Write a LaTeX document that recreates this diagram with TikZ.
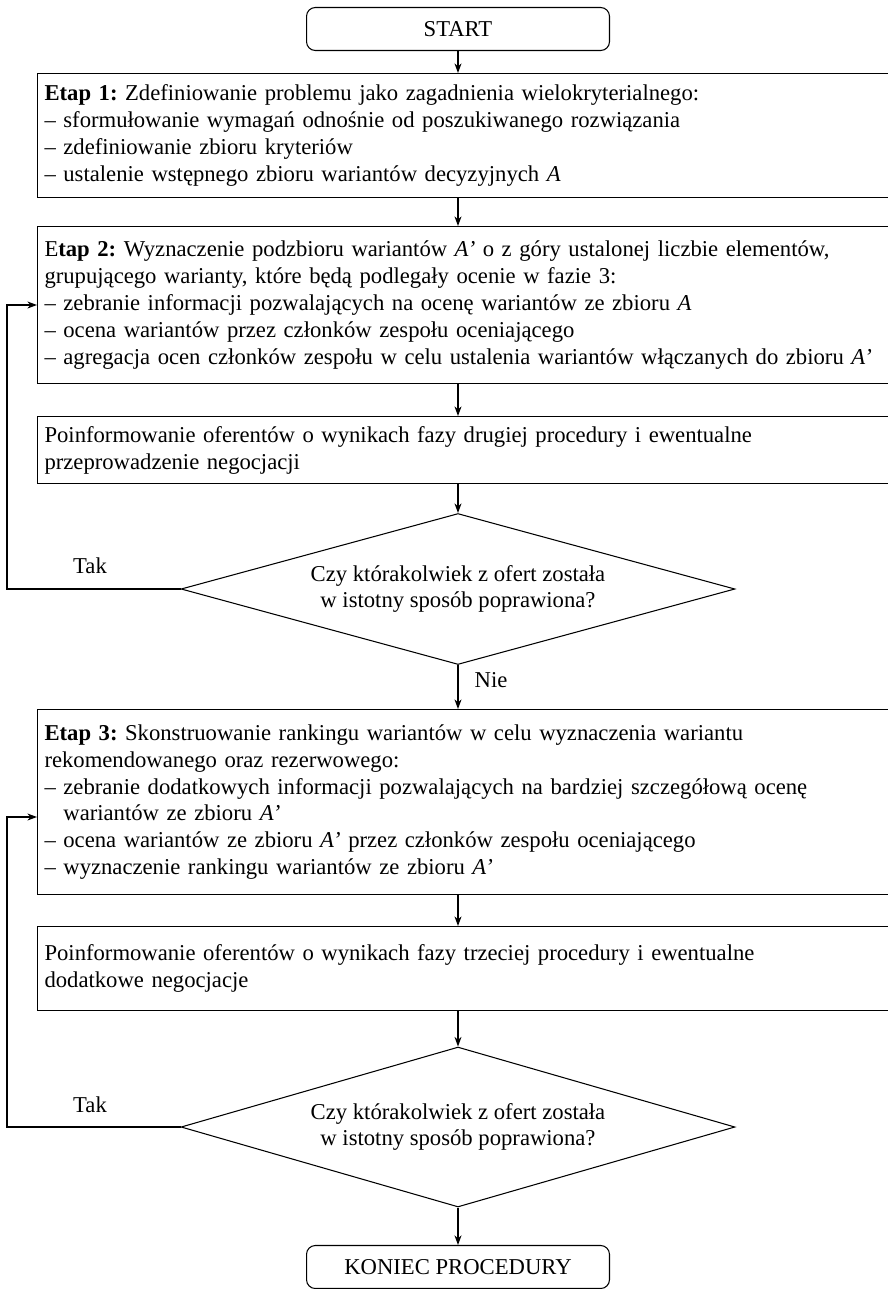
\documentclass[tikz,border=0pt]{standalone}
\usepackage{fontspec}
\setmainfont{Liberation Serif}
\usetikzlibrary{shapes.geometric,arrows.meta}
\frenchspacing

\begin{document}
\begin{tikzpicture}[x=0.02cm,y=-0.02cm,line width=0.6pt,
    font=\fontsize{12.9}{15.3}\selectfont,
    term/.style={draw,rounded corners=5pt,minimum width=6.06cm,minimum height=0.86cm,inner sep=0pt},
    stage/.style={draw,anchor=north west,text width=17.3cm,inner xsep=0.14cm,inner ysep=0pt,align=left},
    query/.style={draw,diamond,aspect=3.67,minimum width=11.08cm,minimum height=3.02cm,inner sep=0pt,align=center}]
  \useasboundingbox (0,0) rectangle (888,1289);
  \node[term] (start) at (458,29) {START};
  \node[stage,minimum height=2.48cm] (e1) at (37,73) {\textbf{Etap 1:} Zdefiniowanie problemu jako zagadnienia wielokryterialnego:\\
    – sformułowanie wymagań odnośnie od poszukiwanego rozwiązania\\
    – zdefiniowanie zbioru kryteriów\\
    – ustalenie wstępnego zbioru wariantów decyzyjnych \textit{A}};
  \node[stage,minimum height=3.14cm] (e2) at (37,226) {E\textbf{tap 2:} Wyznaczenie podzbioru wariantów \textit{A’} o z góry ustalonej liczbie elementów,\\
    grupującego warianty, które będą podlegały ocenie w fazie 3:\\
    – zebranie informacji pozwalających na ocenę wariantów ze zbioru \textit{A}\\
    – ocena wariantów przez członków zespołu oceniającego\\
    – agregacja ocen członków zespołu w celu ustalenia wariantów włączanych do zbioru \textit{A’}};
  \node[stage,minimum height=1.34cm] (inf1) at (37,416) {Poinformowanie oferentów o wynikach fazy drugiej procedury i ewentualne\\
    przeprowadzenie negocjacji};
  \node[query] (q1) at (458,589) {Czy którakolwiek z ofert została\\ w istotny sposób poprawiona?};
  \node[stage,minimum height=3.70cm] (e3) at (37,709) {\textbf{Etap 3:} Skonstruowanie rankingu wariantów w celu wyznaczenia wariantu\\
    rekomendowanego oraz rezerwowego:\\
    – zebranie dodatkowych informacji pozwalających na bardziej szczegółową ocenę\\
    \phantom{– }wariantów ze zbioru \textit{A’}\\
    – ocena wariantów ze zbioru \textit{A’} przez członków zespołu oceniającego\\
    – wyznaczenie rankingu wariantów ze zbioru \textit{A’}};
  \node[stage,minimum height=1.68cm] (inf2) at (37,926) {Poinformowanie oferentów o wynikach fazy trzeciej procedury i ewentualne\\
    dodatkowe negocjacje};
  \node[query,minimum height=3.2cm] (q2) at (458,1127) {Czy którakolwiek z ofert została\\ w istotny sposób poprawiona?};
  \node[term] (stop) at (458,1267) {KONIEC PROCEDURY};
  \node (tak1) at (90,566) {Tak};
  \node (nie) at (491,680) {Nie};
  \node (tak2) at (90,1105) {Tak};
  \coordinate (back1) at (7,305);
  \coordinate (back2) at (7,817);
  \begin{scope}[-{Stealth[length=5.5pt,width=4pt]}]
    \draw (start) -- (start |- e1.north);
    \draw (e1.south -| start) -- (e2.north -| start);
    \draw (e2.south -| start) -- (inf1.north -| start);
    \draw (inf1.south -| start) -- (q1.north);
    \draw (q1.south) -- (e3.north -| q1);
    \draw (e3.south -| start) -- (inf2.north -| start);
    \draw (inf2.south -| start) -- (q2.north);
    \draw (q2.south) -- (stop.north);
    \draw (q1.west) -| (back1) -- (back1 -| e2.west);
    \draw (q2.west) -| (back2) -- (back2 -| e3.west);
  \end{scope}
\end{tikzpicture}
\end{document}
